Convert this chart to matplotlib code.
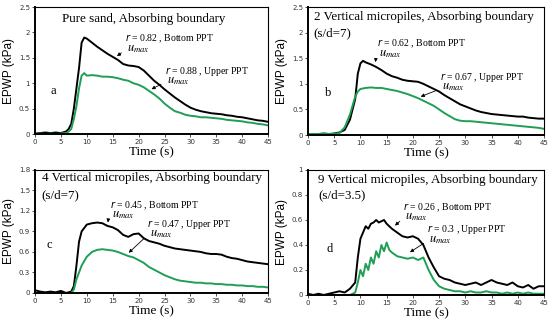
import matplotlib.pyplot as plt

GREEN = "#1f9e55"

# panel a: pure sand
t_a = [0, 1, 2, 3, 4, 5, 6, 6.5, 7, 7.5, 8, 8.5, 9, 9.5, 10, 11, 12, 13, 14, 15, 16, 17,
       18, 19, 20, 21, 22, 23, 24, 25, 26, 27, 28, 29, 30, 31, 32, 33, 34, 35, 36, 37,
       38, 39, 40, 41, 42, 43, 44, 45]
bottom_a = [0.01, 0.02, 0.03, 0.02, 0.03, 0.02, 0.05, 0.1, 0.2, 0.5, 0.9, 1.3, 1.8, 1.9,
            1.88, 1.8, 1.72, 1.65, 1.58, 1.52, 1.46, 1.38, 1.35, 1.34, 1.32, 1.25, 1.15,
            1.05, 0.97, 0.88, 0.8, 0.72, 0.65, 0.58, 0.52, 0.48, 0.45, 0.43, 0.41, 0.40,
            0.39, 0.37, 0.36, 0.34, 0.33, 0.31, 0.29, 0.27, 0.26, 0.24]
upper_a = [0.0, 0.01, 0.0, 0.01, 0.0, 0.01, 0.02, 0.05, 0.1, 0.3, 0.55, 0.9, 1.15, 1.2,
           1.15, 1.16, 1.15, 1.13, 1.13, 1.12, 1.1, 1.07, 1.05, 1.0, 0.97, 0.92, 0.85,
           0.78, 0.7, 0.6, 0.52, 0.45, 0.42, 0.38, 0.36, 0.35, 0.33, 0.33, 0.32, 0.31,
           0.30, 0.28, 0.27, 0.26, 0.25, 0.23, 0.22, 0.2, 0.19, 0.17]

# panel b: 2 micropiles
t_b = [0, 1, 2, 3, 4, 5, 6, 7, 8, 9, 9.5, 10, 10.5, 11, 12, 13, 14, 15, 16, 17, 18, 19,
       20, 21, 22, 23, 24, 25, 26, 27, 28, 29, 30, 31, 32, 33, 34, 35, 36, 37, 38, 39,
       40, 41, 42, 43, 44, 45]
bottom_b = [0.02, 0.02, 0.02, 0.03, 0.02, 0.03, 0.05, 0.1, 0.3, 0.7, 1.2, 1.4, 1.45,
            1.42, 1.38, 1.33, 1.27, 1.2, 1.15, 1.12, 1.08, 1.06, 1.05, 1.04, 1.0, 0.95,
            0.9, 0.85, 0.78, 0.72, 0.66, 0.6, 0.56, 0.52, 0.48, 0.45, 0.43, 0.41, 0.40,
            0.39, 0.38, 0.37, 0.36, 0.36, 0.34, 0.33, 0.32, 0.32]
upper_b = [0.02, 0.02, 0.02, 0.02, 0.02, 0.02, 0.04, 0.15, 0.4, 0.75, 0.85, 0.9, 0.91,
           0.92, 0.93, 0.92, 0.92, 0.9, 0.88, 0.86, 0.83, 0.8, 0.76, 0.72, 0.67, 0.62,
           0.57, 0.5, 0.43, 0.37, 0.31, 0.28, 0.27, 0.27, 0.26, 0.25, 0.24, 0.23, 0.22,
           0.21, 0.2, 0.19, 0.18, 0.17, 0.16, 0.15, 0.14, 0.12]

# panel c: 4 micropiles
t_c = [0, 1, 2, 3, 4, 5, 6, 7, 7.5, 8, 8.5, 9, 10, 11, 12, 13, 14, 15, 16, 17, 18, 19,
       20, 21, 22, 23, 24, 25, 26, 27, 28, 29, 30, 31, 32, 33, 34, 35, 36, 37, 38, 39,
       40, 41, 42, 43, 44, 45]
bottom_c = [0.04, 0.02, 0.01, 0.02, 0.01, 0.03, 0.0, 0.02, 0.1, 0.4, 0.75, 0.9, 1.0,
            1.02, 1.03, 1.02, 0.98, 0.96, 0.92, 0.85, 0.82, 0.86, 0.87, 0.8, 0.76, 0.74,
            0.72, 0.69, 0.67, 0.65, 0.64, 0.63, 0.62, 0.61, 0.6, 0.58, 0.57, 0.57, 0.56,
            0.53, 0.51, 0.5, 0.48, 0.46, 0.45, 0.44, 0.43, 0.42]
upper_c = [0.0, 0.0, 0.0, 0.0, 0.0, 0.0, 0.0, 0.0, 0.05, 0.2, 0.3, 0.4, 0.53, 0.6, 0.63,
           0.64, 0.63, 0.62, 0.6, 0.57, 0.54, 0.52, 0.48, 0.44, 0.38, 0.34, 0.3, 0.26,
           0.23, 0.2, 0.18, 0.17, 0.16, 0.15, 0.15, 0.14, 0.14, 0.13, 0.13, 0.12, 0.12,
           0.11, 0.11, 0.1, 0.1, 0.09, 0.09, 0.08]

# panel d: 9 micropiles
t_d = [0, 1, 2, 3, 4, 5, 6, 7, 8, 9, 9.5, 10, 10.5, 11, 11.5, 12, 12.5, 13, 13.5, 14,
       14.5, 15, 15.5, 16, 17, 18, 19, 20, 21, 22, 23, 24, 25, 26, 27, 28, 29, 30, 31,
       32, 33, 34, 35, 36, 37, 38, 39, 40, 41, 42, 43, 44, 45]
bottom_d = [0.01, 0.0, 0.01, 0.0, 0.01, 0.02, 0.03, 0.02, 0.05, 0.1, 0.3, 0.45, 0.5,
            0.55, 0.53, 0.57, 0.58, 0.6, 0.58, 0.59, 0.6, 0.57, 0.55, 0.53, 0.5, 0.47,
            0.46, 0.47, 0.45, 0.4, 0.3, 0.22, 0.15, 0.13, 0.12, 0.1, 0.09, 0.08, 0.09,
            0.1, 0.08, 0.1, 0.12, 0.1, 0.09, 0.08, 0.1, 0.07, 0.06, 0.08, 0.05, 0.07, 0.07]
upper_d = [0.0, 0.0, 0.0, 0.0, 0.0, 0.0, 0.0, 0.0, 0.0, 0.02, 0.1, 0.2, 0.15, 0.25, 0.2,
           0.3, 0.25, 0.35, 0.3, 0.4, 0.35, 0.42, 0.36, 0.34, 0.31, 0.3, 0.29, 0.3, 0.28,
           0.3, 0.2, 0.12, 0.07, 0.05, 0.04, 0.03, 0.03, 0.02, 0.03, 0.02, 0.02, 0.03,
           0.02, 0.02, 0.01, 0.02, 0.01, 0.02, 0.01, 0.02, 0.01, 0.01, 0.01]

panels = [
    dict(t=t_a, bot=bottom_a, up=upper_a, ymax=2.5, yticks=[0, 0.5, 1, 1.5, 2, 2.5],
         ylabels=["0", "0.5", "1", "1.5", "2", "2.5"],
         title="Pure sand, Absorbing boundary", title_xy=(21, 2.26), title_ha="center",
         sub=None, letter="a", letter_xy=(2.9, 0.85),
         rb="0.82", rb_xy=(17.3, 1.87), rb_tip=(15.4, 1.5),
         ru="0.88", ru_xy=(25, 1.24), ru_tip=(22, 0.86),
         pos=[0.0636, 0.585, 0.424, 0.393]),
    dict(t=t_b, bot=bottom_b, up=upper_b, ymax=2.5, yticks=[0, 0.5, 1, 1.5, 2, 2.5],
         ylabels=["0", "0.5", "1", "1.5", "2", "2.5"],
         title="2 Vertical micropiles, Absorbing boundary", title_xy=(1.1, 2.3),
         title_ha="left", sub="(s/d=7)", sub_xy=(1.1, 1.99), letter="b",
         letter_xy=(3.2, 0.82),
         rb="0.62", rb_xy=(13.2, 1.78), rb_tip=(12.8, 1.37),
         ru="0.67", ru_xy=(25.2, 1.13), ru_tip=(21, 0.73),
         pos=[0.56, 0.582, 0.429, 0.396]),
    dict(t=t_c, bot=bottom_c, up=upper_c, ymax=1.8,
         yticks=[0, 0.3, 0.6, 0.9, 1.2, 1.5, 1.8],
         ylabels=["0", "0.3", "0.6", "0.9", "1.2", "1.5", "1.8"],
         title="4 Vertical micropiles, Absorbing boundary", title_xy=(1.3, 1.68),
         title_ha="left", sub="(s/d=7)", sub_xy=(1.3, 1.43), letter="c",
         letter_xy=(2.3, 0.7),
         rb="0.45", rb_xy=(14.4, 1.28), rb_tip=(14.0, 0.99),
         ru="0.47", ru_xy=(21.7, 1.0), ru_tip=(17.7, 0.56),
         pos=[0.0636, 0.093, 0.424, 0.381]),
    dict(t=t_d, bot=bottom_d, up=upper_d, ymax=1.0,
         yticks=[0, 0.2, 0.4, 0.6, 0.8, 1.0],
         ylabels=["0", "0.2", "0.4", "0.6", "0.8", "1"],
         title="9 Vertical micropiles, Absorbing boundary", title_xy=(1.9, 0.92),
         title_ha="left", sub="(s/d=3.5)", sub_xy=(1.9, 0.8), letter="d",
         letter_xy=(3.6, 0.37),
         rb="0.26", rb_xy=(18.1, 0.70), rb_tip=(16.2, 0.54),
         ru="0.3", ru_xy=(22.7, 0.52), ru_tip=(19.0, 0.33),
         pos=[0.56, 0.0867, 0.429, 0.387]),
]

serif = "Liberation Serif"

fig = plt.figure(figsize=(5.5, 3.23), dpi=100)

for p in panels:
    ax = fig.add_axes(p["pos"])
    ax.plot(p["t"], p["bot"], color="black", lw=1.4)
    ax.plot(p["t"], p["up"], color=GREEN, lw=1.4)
    ax.set_xlim(0, 45)
    ax.set_ylim(0, p["ymax"])
    ax.set_xticks(range(0, 46, 5))
    ax.set_yticks(p["yticks"])
    ax.set_yticklabels(p["ylabels"])
    ax.tick_params(labelsize=5, colors="#333333", length=2, width=0.6, pad=1.5)
    for s in ax.spines.values():
        s.set_linewidth(0.8)
    ax.spines["left"].set_linewidth(1.4)
    ax.spines["bottom"].set_linewidth(1.4)
    ax.set_xlabel("Time (s)", family=serif, fontsize=9.5, labelpad=1)
    ax.set_ylabel("EPWP (kPa)", family="Liberation Sans", fontsize=8.5, labelpad=3)

    ax.text(*p["title_xy"], p["title"], family=serif, fontsize=9.4,
            ha=p["title_ha"], va="center")
    if p["sub"]:
        ax.text(*p["sub_xy"], p["sub"], family=serif, fontsize=9.4, ha="left",
                va="center")
    ax.text(*p["letter_xy"], p["letter"], family=serif, fontsize=9, ha="left",
            va="center")

    for val, xy, tip, name in [(p["rb"], p["rb_xy"], p["rb_tip"], "Bottom PPT"),
                               (p["ru"], p["ru_xy"], p["ru_tip"], "Upper PPT")]:
        ax.annotate("", xy=tip, xytext=(xy[0] - 0.2, xy[1] - 0.095 * p["ymax"]),
                    arrowprops=dict(arrowstyle="-|>", color="black", lw=0.6,
                                    mutation_scale=5))
        ax.text(xy[0], xy[1], "$r$ = " + val + " , " + name,
                family=serif, fontsize=7, ha="left", va="center")
        ax.text(xy[0] + 0.4, xy[1] - 0.075 * p["ymax"], "$u_{max}$",
                fontsize=9, ha="left", va="center", math_fontfamily="stix")

fig.savefig("out.png", dpi=100)
